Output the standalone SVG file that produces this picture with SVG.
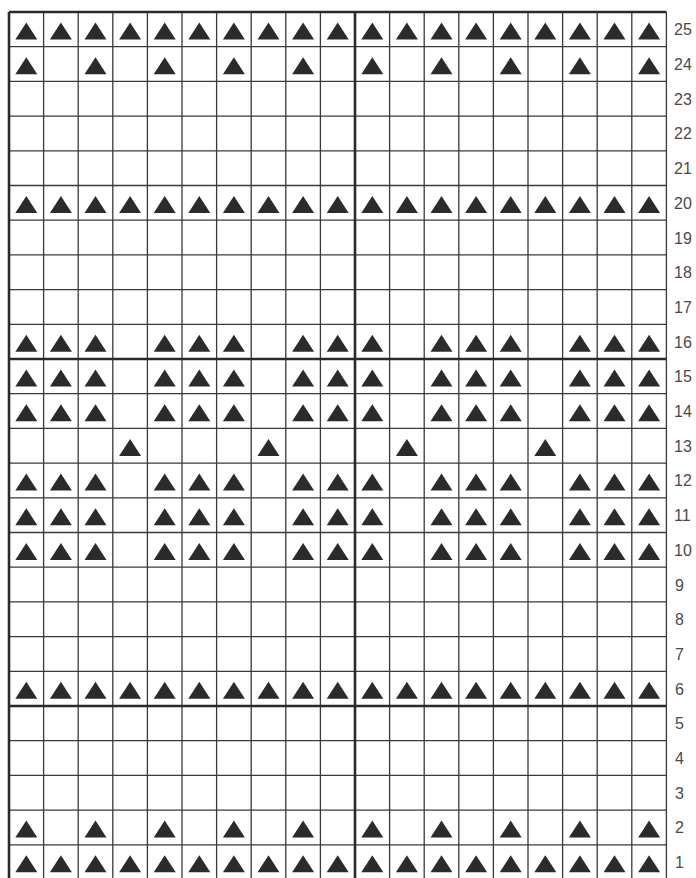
<svg xmlns="http://www.w3.org/2000/svg" width="696" height="878" viewBox="0 0 696 878">
<style>
.thin{stroke:#3a3a3a;stroke-width:1.3;fill:none}
.thick{stroke:#2a2a2a;stroke-width:2.6;fill:none}
.lbl{font-family:"Liberation Sans",Arial,sans-serif;font-size:16px;fill:#4a4a4a}
.tri{fill:#2b2b2b}
</style>
<defs>
<path id="t" class="tri" d="M0,-8.5 L11,8.5 L-11,8.5 Z"/>
</defs>
<rect width="696" height="878" fill="#fff"/>
<g id="grid">
<path class="thin" d="M43.6,12V878M78.2,12V878M112.8,12V878M147.4,12V878M182,12V878M216.6,12V878M251.2,12V878M285.8,12V878M320.4,12V878M389.6,12V878M424.2,12V878M458.8,12V878M493.4,12V878M528,12V878M562.6,12V878M597.2,12V878M631.8,12V878M666.4,12V878"/>
<path class="thin" d="M9,46.7H666.4M9,81.4H666.4M9,116.1H666.4M9,150.8H666.4M9,185.5H666.4M9,220.2H666.4M9,254.9H666.4M9,289.6H666.4M9,324.3H666.4M9,393.7H666.4M9,428.4H666.4M9,463.1H666.4M9,497.8H666.4M9,532.5H666.4M9,567.2H666.4M9,601.9H666.4M9,636.6H666.4M9,671.3H666.4M9,740.7H666.4M9,775.4H666.4M9,810.1H666.4M9,844.8H666.4"/>
<path class="thick" d="M9,12V878M355,12V878M9,12H666.4M9,359H666.4M9,706H666.4"/>
</g>
<g id="row25">
<use href="#t" x="26.3" y="31"/><use href="#t" x="60.9" y="31"/><use href="#t" x="95.5" y="31"/><use href="#t" x="130.1" y="31"/><use href="#t" x="164.7" y="31"/><use href="#t" x="199.3" y="31"/><use href="#t" x="233.9" y="31"/><use href="#t" x="268.5" y="31"/><use href="#t" x="303.1" y="31"/><use href="#t" x="337.7" y="31"/><use href="#t" x="372.3" y="31"/><use href="#t" x="406.9" y="31"/><use href="#t" x="441.5" y="31"/><use href="#t" x="476.1" y="31"/><use href="#t" x="510.7" y="31"/><use href="#t" x="545.3" y="31"/><use href="#t" x="579.9" y="31"/><use href="#t" x="614.5" y="31"/><use href="#t" x="649.1" y="31"/>
</g>
<g id="row24">
<use href="#t" x="26.3" y="65.7"/><use href="#t" x="95.5" y="65.7"/><use href="#t" x="164.7" y="65.7"/><use href="#t" x="233.9" y="65.7"/><use href="#t" x="303.1" y="65.7"/><use href="#t" x="372.3" y="65.7"/><use href="#t" x="441.5" y="65.7"/><use href="#t" x="510.7" y="65.7"/><use href="#t" x="579.9" y="65.7"/><use href="#t" x="649.1" y="65.7"/>
</g>
<g id="row20">
<use href="#t" x="26.3" y="204.5"/><use href="#t" x="60.9" y="204.5"/><use href="#t" x="95.5" y="204.5"/><use href="#t" x="130.1" y="204.5"/><use href="#t" x="164.7" y="204.5"/><use href="#t" x="199.3" y="204.5"/><use href="#t" x="233.9" y="204.5"/><use href="#t" x="268.5" y="204.5"/><use href="#t" x="303.1" y="204.5"/><use href="#t" x="337.7" y="204.5"/><use href="#t" x="372.3" y="204.5"/><use href="#t" x="406.9" y="204.5"/><use href="#t" x="441.5" y="204.5"/><use href="#t" x="476.1" y="204.5"/><use href="#t" x="510.7" y="204.5"/><use href="#t" x="545.3" y="204.5"/><use href="#t" x="579.9" y="204.5"/><use href="#t" x="614.5" y="204.5"/><use href="#t" x="649.1" y="204.5"/>
</g>
<g id="row16">
<use href="#t" x="26.3" y="343.3"/><use href="#t" x="60.9" y="343.3"/><use href="#t" x="95.5" y="343.3"/><use href="#t" x="164.7" y="343.3"/><use href="#t" x="199.3" y="343.3"/><use href="#t" x="233.9" y="343.3"/><use href="#t" x="303.1" y="343.3"/><use href="#t" x="337.7" y="343.3"/><use href="#t" x="372.3" y="343.3"/><use href="#t" x="441.5" y="343.3"/><use href="#t" x="476.1" y="343.3"/><use href="#t" x="510.7" y="343.3"/><use href="#t" x="579.9" y="343.3"/><use href="#t" x="614.5" y="343.3"/><use href="#t" x="649.1" y="343.3"/>
</g>
<g id="row15">
<use href="#t" x="26.3" y="378"/><use href="#t" x="60.9" y="378"/><use href="#t" x="95.5" y="378"/><use href="#t" x="164.7" y="378"/><use href="#t" x="199.3" y="378"/><use href="#t" x="233.9" y="378"/><use href="#t" x="303.1" y="378"/><use href="#t" x="337.7" y="378"/><use href="#t" x="372.3" y="378"/><use href="#t" x="441.5" y="378"/><use href="#t" x="476.1" y="378"/><use href="#t" x="510.7" y="378"/><use href="#t" x="579.9" y="378"/><use href="#t" x="614.5" y="378"/><use href="#t" x="649.1" y="378"/>
</g>
<g id="row14">
<use href="#t" x="26.3" y="412.7"/><use href="#t" x="60.9" y="412.7"/><use href="#t" x="95.5" y="412.7"/><use href="#t" x="164.7" y="412.7"/><use href="#t" x="199.3" y="412.7"/><use href="#t" x="233.9" y="412.7"/><use href="#t" x="303.1" y="412.7"/><use href="#t" x="337.7" y="412.7"/><use href="#t" x="372.3" y="412.7"/><use href="#t" x="441.5" y="412.7"/><use href="#t" x="476.1" y="412.7"/><use href="#t" x="510.7" y="412.7"/><use href="#t" x="579.9" y="412.7"/><use href="#t" x="614.5" y="412.7"/><use href="#t" x="649.1" y="412.7"/>
</g>
<g id="row13">
<use href="#t" x="130.1" y="447.4"/><use href="#t" x="268.5" y="447.4"/><use href="#t" x="406.9" y="447.4"/><use href="#t" x="545.3" y="447.4"/>
</g>
<g id="row12">
<use href="#t" x="26.3" y="482.1"/><use href="#t" x="60.9" y="482.1"/><use href="#t" x="95.5" y="482.1"/><use href="#t" x="164.7" y="482.1"/><use href="#t" x="199.3" y="482.1"/><use href="#t" x="233.9" y="482.1"/><use href="#t" x="303.1" y="482.1"/><use href="#t" x="337.7" y="482.1"/><use href="#t" x="372.3" y="482.1"/><use href="#t" x="441.5" y="482.1"/><use href="#t" x="476.1" y="482.1"/><use href="#t" x="510.7" y="482.1"/><use href="#t" x="579.9" y="482.1"/><use href="#t" x="614.5" y="482.1"/><use href="#t" x="649.1" y="482.1"/>
</g>
<g id="row11">
<use href="#t" x="26.3" y="516.8"/><use href="#t" x="60.9" y="516.8"/><use href="#t" x="95.5" y="516.8"/><use href="#t" x="164.7" y="516.8"/><use href="#t" x="199.3" y="516.8"/><use href="#t" x="233.9" y="516.8"/><use href="#t" x="303.1" y="516.8"/><use href="#t" x="337.7" y="516.8"/><use href="#t" x="372.3" y="516.8"/><use href="#t" x="441.5" y="516.8"/><use href="#t" x="476.1" y="516.8"/><use href="#t" x="510.7" y="516.8"/><use href="#t" x="579.9" y="516.8"/><use href="#t" x="614.5" y="516.8"/><use href="#t" x="649.1" y="516.8"/>
</g>
<g id="row10">
<use href="#t" x="26.3" y="551.5"/><use href="#t" x="60.9" y="551.5"/><use href="#t" x="95.5" y="551.5"/><use href="#t" x="164.7" y="551.5"/><use href="#t" x="199.3" y="551.5"/><use href="#t" x="233.9" y="551.5"/><use href="#t" x="303.1" y="551.5"/><use href="#t" x="337.7" y="551.5"/><use href="#t" x="372.3" y="551.5"/><use href="#t" x="441.5" y="551.5"/><use href="#t" x="476.1" y="551.5"/><use href="#t" x="510.7" y="551.5"/><use href="#t" x="579.9" y="551.5"/><use href="#t" x="614.5" y="551.5"/><use href="#t" x="649.1" y="551.5"/>
</g>
<g id="row6">
<use href="#t" x="26.3" y="690.3"/><use href="#t" x="60.9" y="690.3"/><use href="#t" x="95.5" y="690.3"/><use href="#t" x="130.1" y="690.3"/><use href="#t" x="164.7" y="690.3"/><use href="#t" x="199.3" y="690.3"/><use href="#t" x="233.9" y="690.3"/><use href="#t" x="268.5" y="690.3"/><use href="#t" x="303.1" y="690.3"/><use href="#t" x="337.7" y="690.3"/><use href="#t" x="372.3" y="690.3"/><use href="#t" x="406.9" y="690.3"/><use href="#t" x="441.5" y="690.3"/><use href="#t" x="476.1" y="690.3"/><use href="#t" x="510.7" y="690.3"/><use href="#t" x="545.3" y="690.3"/><use href="#t" x="579.9" y="690.3"/><use href="#t" x="614.5" y="690.3"/><use href="#t" x="649.1" y="690.3"/>
</g>
<g id="row2">
<use href="#t" x="26.3" y="829.1"/><use href="#t" x="95.5" y="829.1"/><use href="#t" x="164.7" y="829.1"/><use href="#t" x="233.9" y="829.1"/><use href="#t" x="303.1" y="829.1"/><use href="#t" x="372.3" y="829.1"/><use href="#t" x="441.5" y="829.1"/><use href="#t" x="510.7" y="829.1"/><use href="#t" x="579.9" y="829.1"/><use href="#t" x="649.1" y="829.1"/>
</g>
<g id="row1">
<use href="#t" x="26.3" y="863.8"/><use href="#t" x="60.9" y="863.8"/><use href="#t" x="95.5" y="863.8"/><use href="#t" x="130.1" y="863.8"/><use href="#t" x="164.7" y="863.8"/><use href="#t" x="199.3" y="863.8"/><use href="#t" x="233.9" y="863.8"/><use href="#t" x="268.5" y="863.8"/><use href="#t" x="303.1" y="863.8"/><use href="#t" x="337.7" y="863.8"/><use href="#t" x="372.3" y="863.8"/><use href="#t" x="406.9" y="863.8"/><use href="#t" x="441.5" y="863.8"/><use href="#t" x="476.1" y="863.8"/><use href="#t" x="510.7" y="863.8"/><use href="#t" x="545.3" y="863.8"/><use href="#t" x="579.9" y="863.8"/><use href="#t" x="614.5" y="863.8"/><use href="#t" x="649.1" y="863.8"/>
</g>
<g id="row-numbers" class="lbl">
<text x="674" y="35.3">25</text>
<text x="674" y="70">24</text>
<text x="674" y="104.7">23</text>
<text x="674" y="139.4">22</text>
<text x="674" y="174.1">21</text>
<text x="674" y="208.8">20</text>
<text x="674" y="243.5">19</text>
<text x="674" y="278.2">18</text>
<text x="674" y="312.9">17</text>
<text x="674" y="347.6">16</text>
<text x="674" y="382.3">15</text>
<text x="674" y="417">14</text>
<text x="674" y="451.7">13</text>
<text x="674" y="486.4">12</text>
<text x="674" y="521.1">11</text>
<text x="674" y="555.8">10</text>
<text x="675" y="590.5">9</text>
<text x="675" y="625.2">8</text>
<text x="675" y="659.9">7</text>
<text x="675" y="694.6">6</text>
<text x="675" y="729.3">5</text>
<text x="675" y="764">4</text>
<text x="675" y="798.7">3</text>
<text x="675" y="833.4">2</text>
<text x="675" y="868.1">1</text>
</g>
</svg>
